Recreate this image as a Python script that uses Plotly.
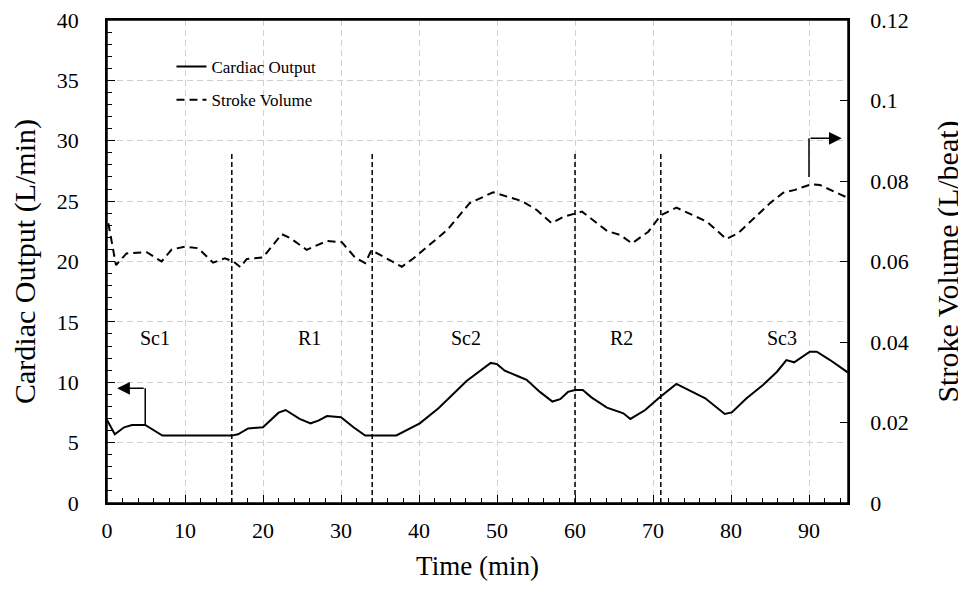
import plotly.graph_objects as go

# Cardiac output (L/min) vs time (min)
co_time = [0, 1.0, 2.2, 3.2, 4.9, 7.1, 16.0, 16.8, 18.1, 20.0, 22.0, 22.9, 24.7, 26.1, 27.1, 28.2,
           30.0, 31.6, 33.1, 37.1, 40.1, 42.5, 46.1, 47.8, 49.2, 50.0, 51.0, 52.7, 53.8, 55.5,
           57.1, 58.1, 59.1, 60.0, 61.0, 62.1, 64.1, 66.2, 67.1, 69.0, 70.9, 73.0, 75.0, 76.7,
           79.2, 80.1, 82.0, 84.1, 85.9, 87.1, 88.1, 90.1, 91.0, 92.7, 95.0]
co_vals = [6.87, 5.69, 6.27, 6.46, 6.46, 5.58, 5.58, 5.69, 6.18, 6.27, 7.48, 7.70, 6.96, 6.60, 6.82, 7.20,
           7.10, 6.27, 5.58, 5.60, 6.60, 7.84, 10.1, 10.9, 11.6, 11.5, 10.96, 10.5, 10.2, 9.2,
           8.4, 8.6, 9.2, 9.36, 9.36, 8.75, 7.9, 7.43, 6.96, 7.7, 8.78, 9.86, 9.2, 8.67,
           7.37, 7.5, 8.67, 9.77, 10.87, 11.84, 11.65, 12.53, 12.53, 11.84, 10.8]

# Stroke volume (L/beat) vs time (min)
sv_time = [0.17, 1.15, 2.5, 5.1, 7.0, 8.3, 10.0, 11.7, 13.6, 15.1, 16.2, 17.1, 17.9, 20.0, 22.4, 23.5,
           25.6, 28.2, 30.1, 31.8, 33.1, 33.9, 37.8, 39.3, 43.6, 46.5, 49.5, 53.2, 55.1, 57.0,
           58.5, 60.9, 64.1, 65.8, 67.3, 69.4, 71.0, 73.0, 76.9, 79.4, 80.9, 85.0, 86.7, 88.2,
           90.3, 91.4, 94.2, 95.0]
sv_vals = [0.0695, 0.0591, 0.0620, 0.0623, 0.0600, 0.0630, 0.0637, 0.0633, 0.0597, 0.0608, 0.0600, 0.0586,
           0.0606, 0.0610, 0.0668, 0.0658, 0.0629, 0.0651, 0.0648, 0.0610, 0.0596, 0.0628, 0.0587, 0.0608,
           0.0678, 0.0745, 0.0772, 0.0750, 0.0728, 0.0695, 0.0711, 0.0724, 0.0676, 0.0666, 0.0645, 0.0674,
           0.0715, 0.0734, 0.0699, 0.0656, 0.0670, 0.0745, 0.0771, 0.0778, 0.0792, 0.0790, 0.0765, 0.0758]

# Phase boundaries and labels
phase_bounds = [16, 34, 60, 71]
phase_top = 29
phase_names = ["Sc1", "R1", "Sc2", "R2", "Sc3"]
phase_label_x = [6.2, 26, 46, 66, 86.5]
phase_label_y = 13.7

# Axis indicator arrows: (stem x, stem bottom y, stem top y, arrow tip x)
left_arrow = [4.9, 6.46, 9.5, 1.3]
right_arrow = [90.0, 27.0, 30.2, 94.2]

SERIF = "Liberation Serif, Times New Roman, serif"

fig = go.Figure()

fig.add_trace(go.Scatter(x=co_time, y=co_vals, mode="lines", name="Cardiac Output",
                         line=dict(color="black", width=2), legendgroup="a"))
fig.add_trace(go.Scatter(x=sv_time, y=sv_vals, mode="lines", name="Stroke Volume",
                         line=dict(color="black", width=2, dash="8px,5px"), yaxis="y2",
                         legendgroup="b"))

for b in phase_bounds:
    fig.add_trace(go.Scatter(x=[b, b], y=[0, phase_top], mode="lines", showlegend=False,
                             line=dict(color="black", width=1.5, dash="5px,3px"), hoverinfo="skip"))

for nm, lx in zip(phase_names, phase_label_x):
    fig.add_annotation(x=lx, y=phase_label_y, text=nm, showarrow=False,
                       font=dict(family=SERIF, size=20, color="black"))

# arrows
for arr in (left_arrow, right_arrow):
    sx, sb, st, tip = arr
    fig.add_trace(go.Scatter(x=[sx, sx], y=[sb, st], mode="lines", showlegend=False,
                             line=dict(color="black", width=1.5), hoverinfo="skip"))
    fig.add_annotation(x=tip, y=st, ax=sx, ay=st, xref="x", yref="y", axref="x", ayref="y",
                       text="", showarrow=True, arrowhead=2, arrowsize=1.7, arrowwidth=1.5,
                       arrowcolor="black")

# plot frame
fig.add_shape(type="rect", xref="paper", yref="paper", x0=0, x1=1, y0=0, y1=1,
              line=dict(color="black", width=1.5), layer="above")

axis_common = dict(showline=True, linecolor="black", linewidth=1.5,
                   ticks="inside", tickcolor="black", ticklen=8, tickwidth=1.2,
                   automargin=False, ticklabeloverflow="allow",
                   tickfont=dict(family=SERIF, size=22, color="black"))

fig.update_layout(
    width=958, height=585,
    margin=dict(l=99, r=118, t=12, b=90),
    paper_bgcolor="white", plot_bgcolor="white",
    showlegend=True,
    legend=dict(x=0.087, y=0.94, xanchor="left", yanchor="top", bgcolor="rgba(0,0,0,0)",
                font=dict(family=SERIF, size=17, color="black"), tracegroupgap=8,
                traceorder="grouped"),
    xaxis=dict(range=[0, 95], dtick=10, tick0=0, mirror=True,
               showgrid=True, gridcolor="#cfcfcf", griddash="6px,4px", gridwidth=1.2,
               zeroline=False, ticklabelstandoff=7,
               minor=dict(dtick=2, ticks="inside", ticklen=5, tickcolor="black", showgrid=False),
               title=dict(text="Time (min)", font=dict(family=SERIF, size=27, color="black"), standoff=14),
               **axis_common),
    yaxis=dict(range=[0, 40], dtick=5, tick0=0,
               showgrid=True, gridcolor="#cfcfcf", griddash="6px,4px", gridwidth=1.2,
               zeroline=False, ticklabelstandoff=22,
               minor=dict(dtick=1, ticks="inside", ticklen=5, tickcolor="black", showgrid=False),
               title=dict(text="Cardiac Output (L/min)", font=dict(family=SERIF, size=30, color="black"), standoff=14),
               **axis_common),
    yaxis2=dict(range=[0, 0.12], dtick=0.02, tick0=0, overlaying="y", side="right",
                showgrid=False, zeroline=False, ticklabelstandoff=16,
                title=dict(text="Stroke Volume (L/beat)", font=dict(family=SERIF, size=30, color="black"), standoff=29),
                **axis_common),
)

fig.write_html("out.html")
